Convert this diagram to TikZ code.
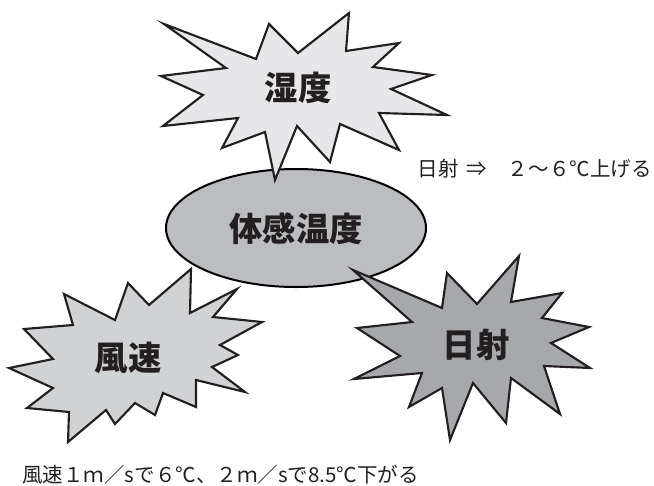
\documentclass[tikz,border=0pt]{standalone}
\usepackage{fontspec}
\usetikzlibrary{shapes.geometric}
\newfontfamily\cjk{Noto Sans CJK JP}
\definecolor{humfill}{HTML}{E7E7E9}
\definecolor{windfill}{HTML}{D1D2D4}
\definecolor{sunfill}{HTML}{A7A8AB}
\definecolor{ellfill}{HTML}{BCBDC0}
\definecolor{ink}{HTML}{231F20}
\begin{document}
\begin{tikzpicture}[x=0.75pt,y=-0.75pt,
  burst/.style={draw=ink, line width=1.6pt, line join=miter},
  big/.style={font=\cjk\bfseries\fontsize{25}{26}\selectfont, text=ink, inner sep=0pt},
  note/.style={font=\cjk\fontsize{15.4}{17}\selectfont, text=ink, inner sep=0pt}]
\useasboundingbox (0,0) rectangle (654,486);
% central ellipse
\node[ellipse, draw=black, line width=1.5pt, fill=ellfill, minimum width=195pt, minimum height=88.5pt, inner sep=0pt] (ell) at (296,228) {};
\node[big] (tk) at (296,229) {体感温度};
% humidity burst
\draw[burst, fill=humfill] (164,24) -- (256,59) -- (269,24) -- (298,53) -- (349,13) -- (346,51) -- (399,43) -- (373,67) -- (432,75) -- (391,89) -- (447,115) -- (379,113) -- (399,150) -- (340,124) -- (330,162) -- (297,126) -- (275,180) -- (265,132) -- (222,148) -- (238,118) -- (163,126) -- (203,95) -- (161,76) -- (226,68) -- cycle;
\node[big] (hum) at (298,88) {湿度};
% wind burst
\draw[burst, fill=windfill] (64,294) -- (115,320) -- (128,283) -- (149,305) -- (191,269) -- (190,313) -- (237,289) -- (213,317) -- (262,322) -- (220,345) -- (238,355) -- (212,367) -- (245,392) -- (196,380) -- (196,407) -- (163,393) -- (155,415) -- (135,403) -- (115,424) -- (106,410) -- (68,442) -- (69,412) -- (27,408) -- (53,388) -- (9,368) -- (53,359) -- (24,329) -- (73,325) -- cycle;
\node[big] (wind) at (128,358) {風速};
% sun burst
\draw[burst, fill=sunfill] (353,270) -- (442,308) -- (447,273) -- (477,304) -- (519,256) -- (511,302) -- (562,293) -- (542,318) -- (589,327) -- (551,343) -- (590,368) -- (544,366) -- (560,414) -- (511,378) -- (506,423) -- (473,383) -- (450,440) -- (442,388) -- (409,407) -- (422,373) -- (354,379) -- (400,356) -- (357,328) -- (412,322) -- cycle;
\node[big] (sun) at (476,345) {日射};
% notes
\node[note, anchor=east] (n1) at (652,169) {日射\hspace{0.4em}⇒\hspace{1em}２～６℃上げる};
\node[note, anchor=west] (n2) at (22,475) {風速１ｍ／sで６℃、２ｍ／sで8.5℃下がる};
\end{tikzpicture}
\end{document}
